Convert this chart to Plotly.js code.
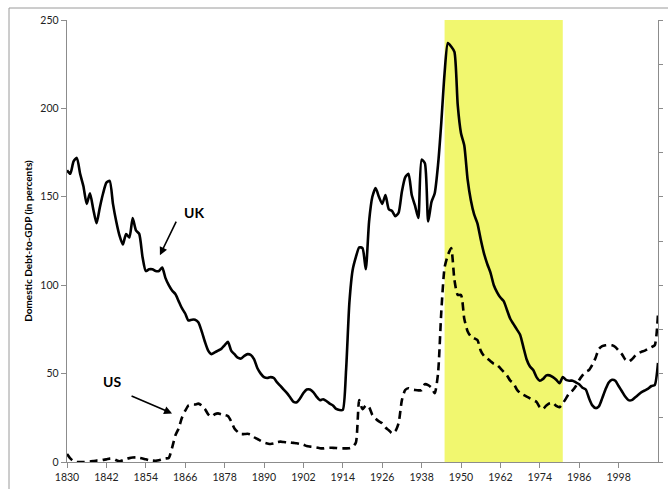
<!DOCTYPE html>
<html>
<head>
<meta charset="utf-8">
<script src="https://cdn.plot.ly/plotly-3.0.1.min.js"></script>
<style>
html,body{margin:0;padding:0;background:#fff;}
#chart{width:668px;height:489px;}
</style>
</head>
<body>
<div id="chart"></div>
<script>
// Years 1830..2010
var startYear = 1830;
var ukDebt = [
 165,163,170,172,163,156,146,152,143,135,
 144,152,158,159,146,136,128,123,129,127,
 138,131,129,116,108,109,109,108,108,110,
 104,100,97,95,91,87,84,80,80.5,80.5,
 79,74,68,63,61,62,63,64,66,68,
 63,61,59,58.5,60,61,60.5,58,53,50,
 48,47.5,48,47.5,45,43,41,39,36.5,34,
 33.8,36,39,41,41,39.5,37,35,35.5,34.5,
 33,32,30,29.4,29.5,52,90,108.6,116,121.4,
 121,109,136,150,155,150,146,151,143,142,
 139,141,153,161,163,151,145,138,171,169,
 136,147,152,168,192,220,237,235,232,202,
 186,179,160,148,140,135,126,118,112,107,
 100,96,93,91,86,81,78,75,72,65,
 58,54,52,48,46,47,49,49,48,46.5,
 44.5,48,46.5,46,46,45,44,42,41,36,
 32,30.5,31.5,36,41,45,46.5,46,43,40,
 37,35,35,36.5,38,39.5,40.5,41.5,43,43.5,
 56
];
var usDebt = [
 4.5,2,0.5,0,0,0,0,0.2,0.5,0.8,
 0.8,1.2,1.5,1.9,1.9,1,0.4,1,1.7,2.2,
 2.5,2.6,2.4,2,1.5,1,0.8,0.7,1,1.5,
 2,2.3,8,15,19,25,29,32,32.5,32.5,
 33,32,30,27,25.6,27,27.5,27,26.6,26,
 23,19,17,15.8,15.8,16,15.5,14,13,12,
 11,10.5,10.2,10.5,11.2,11.5,11.3,11.1,11,10.8,
 10.6,10.2,9.8,9,8.7,8.5,8.2,7.8,7.7,8,
 8.1,8,7.9,7.7,7.7,7.7,7.8,8.5,11,35,
 29.8,32,31,26.6,24.5,23,21.9,19.5,18,16.2,
 17.5,22,35,40.7,41.7,41,40.7,40.5,40.7,44,
 43.5,42,38.9,50,85,110,117,121,103,94.5,
 94.5,81,74,71,70,69,63,60,58.6,57,
 55.5,55,53,51,49,46,44.5,41,39,38,
 37,36,35,34,31,30,32,33.2,33.5,31.7,
 31,33.2,36,39,40.5,43,46.4,49,51,52,
 55,59,64,65.5,66,66.2,66,65,63,61,
 58,56.7,58,60,61.5,62.4,63,64,65,66,
 84
];
var tickYears = [1830,1842,1854,1866,1878,1890,1902,1914,1926,1938,1950,1962,1974,1986,1998];
var yTicks = [0,50,100,150,200,250];
var shadeStart = 1945, shadeEnd = 1981;
var labelUK = "UK", labelUS = "US";
var yTitle = "Domestic Debt-to-GDP (in percents)";

var years = ukDebt.map(function(_, i){ return startYear + i; });

var axisGray = '#8c8c8c';
var tickFont = {family: 'Lato, "Liberation Sans", sans-serif', size: 10.5, color: '#222'};

var traces = [
  {x: years, y: ukDebt, type: 'scatter', mode: 'lines', name: labelUK,
   line: {color: '#000', width: 2.6, shape: 'spline', smoothing: 0.6}, hoverinfo: 'skip'},
  {x: years, y: usDebt, type: 'scatter', mode: 'lines', name: labelUS,
   line: {color: '#000', width: 2.6, dash: '8px,5px', shape: 'spline', smoothing: 0.6}, hoverinfo: 'skip'},
  {x: [years[0]], y: [0], yaxis: 'y2', type: 'scatter', mode: 'markers', marker: {opacity: 0}, showlegend: false, hoverinfo: 'skip'}
];

var L = 67, R = 10, T = 20, B = 27, W = 668, H = 489;
var pw = W - L - R, ph = H - T - B;
function px2paperX(p){ return (p - L) / pw; }
function px2paperY(p){ return (H - B - p) / ph; }

var layout = {
  width: W, height: H,
  margin: {l: L, r: R, t: T, b: B, pad: 0},
  paper_bgcolor: '#fff', plot_bgcolor: 'rgba(0,0,0,0)',
  showlegend: false,
  xaxis: {
    range: [startYear, startYear + years.length - 1],
    tickmode: 'array', tickvals: tickYears, ticktext: tickYears.map(String),
    ticks: 'outside', ticklen: 5, tickcolor: axisGray, tickwidth: 1,
    showline: true, linecolor: axisGray, linewidth: 1.3,
    showgrid: false, zeroline: false, tickfont: tickFont, fixedrange: true
  },
  yaxis: {
    range: [0, 250], tickmode: 'array', tickvals: yTicks,
    ticks: 'outside', ticklen: 5, tickcolor: axisGray, tickwidth: 1,
    showline: true, linecolor: axisGray, linewidth: 1.3,
    showgrid: false, zeroline: false, tickfont: tickFont,
    title: {text: yTitle, font: {family: 'Lato, "Liberation Sans", sans-serif', size: 10, color: '#000', weight: 'bold'}, standoff: 5},
    automargin: false, fixedrange: true
  },
  yaxis2: {
    range: [0, 250], overlaying: 'y', side: 'right', dtick: 25,
    ticks: 'outside', ticklen: 4, tickcolor: axisGray, showticklabels: false,
    showline: true, linecolor: axisGray, linewidth: 1.3,
    showgrid: false, zeroline: false, fixedrange: true
  },
  shapes: [
    {type: 'rect', xref: 'x', yref: 'paper', x0: shadeStart, x1: shadeEnd, y0: 0, y1: 1,
     fillcolor: '#F1F76F', line: {width: 0}, layer: 'below'},
    {type: 'line', xref: 'paper', yref: 'paper', x0: px2paperX(9), x1: px2paperX(9), y0: px2paperY(8), y1: px2paperY(495),
     line: {color: '#9a9a9a', width: 1}},
    {type: 'line', xref: 'paper', yref: 'paper', x0: px2paperX(9), x1: px2paperX(700), y0: px2paperY(8), y1: px2paperY(8),
     line: {color: '#9a9a9a', width: 1}}
  ],
  annotations: [
    {x: 1868.7, y: 141, xref: 'x', yref: 'y', text: '<b>' + labelUK + '</b>', showarrow: false,
     font: {family: 'Lato, "Liberation Sans", sans-serif', size: 14, color: '#000'}},
    {x: 1858.3, y: 117, xref: 'x', yref: 'y', text: '', showarrow: true, ax: 17, ay: -35,
     arrowhead: 2, arrowsize: 1, arrowwidth: 1.6, arrowcolor: '#000'},
    {x: 1843.7, y: 45.5, xref: 'x', yref: 'y', text: '<b>' + labelUS + '</b>', showarrow: false,
     font: {family: 'Lato, "Liberation Sans", sans-serif', size: 14, color: '#000'}},
    {x: 1862, y: 27.5, xref: 'x', yref: 'y', text: '', showarrow: true, ax: -42, ay: -18,
     arrowhead: 2, arrowsize: 1, arrowwidth: 1.6, arrowcolor: '#000'}
  ]
};

Plotly.newPlot('chart', traces, layout, {staticPlot: true, displayModeBar: false});
</script>
</body>
</html>
